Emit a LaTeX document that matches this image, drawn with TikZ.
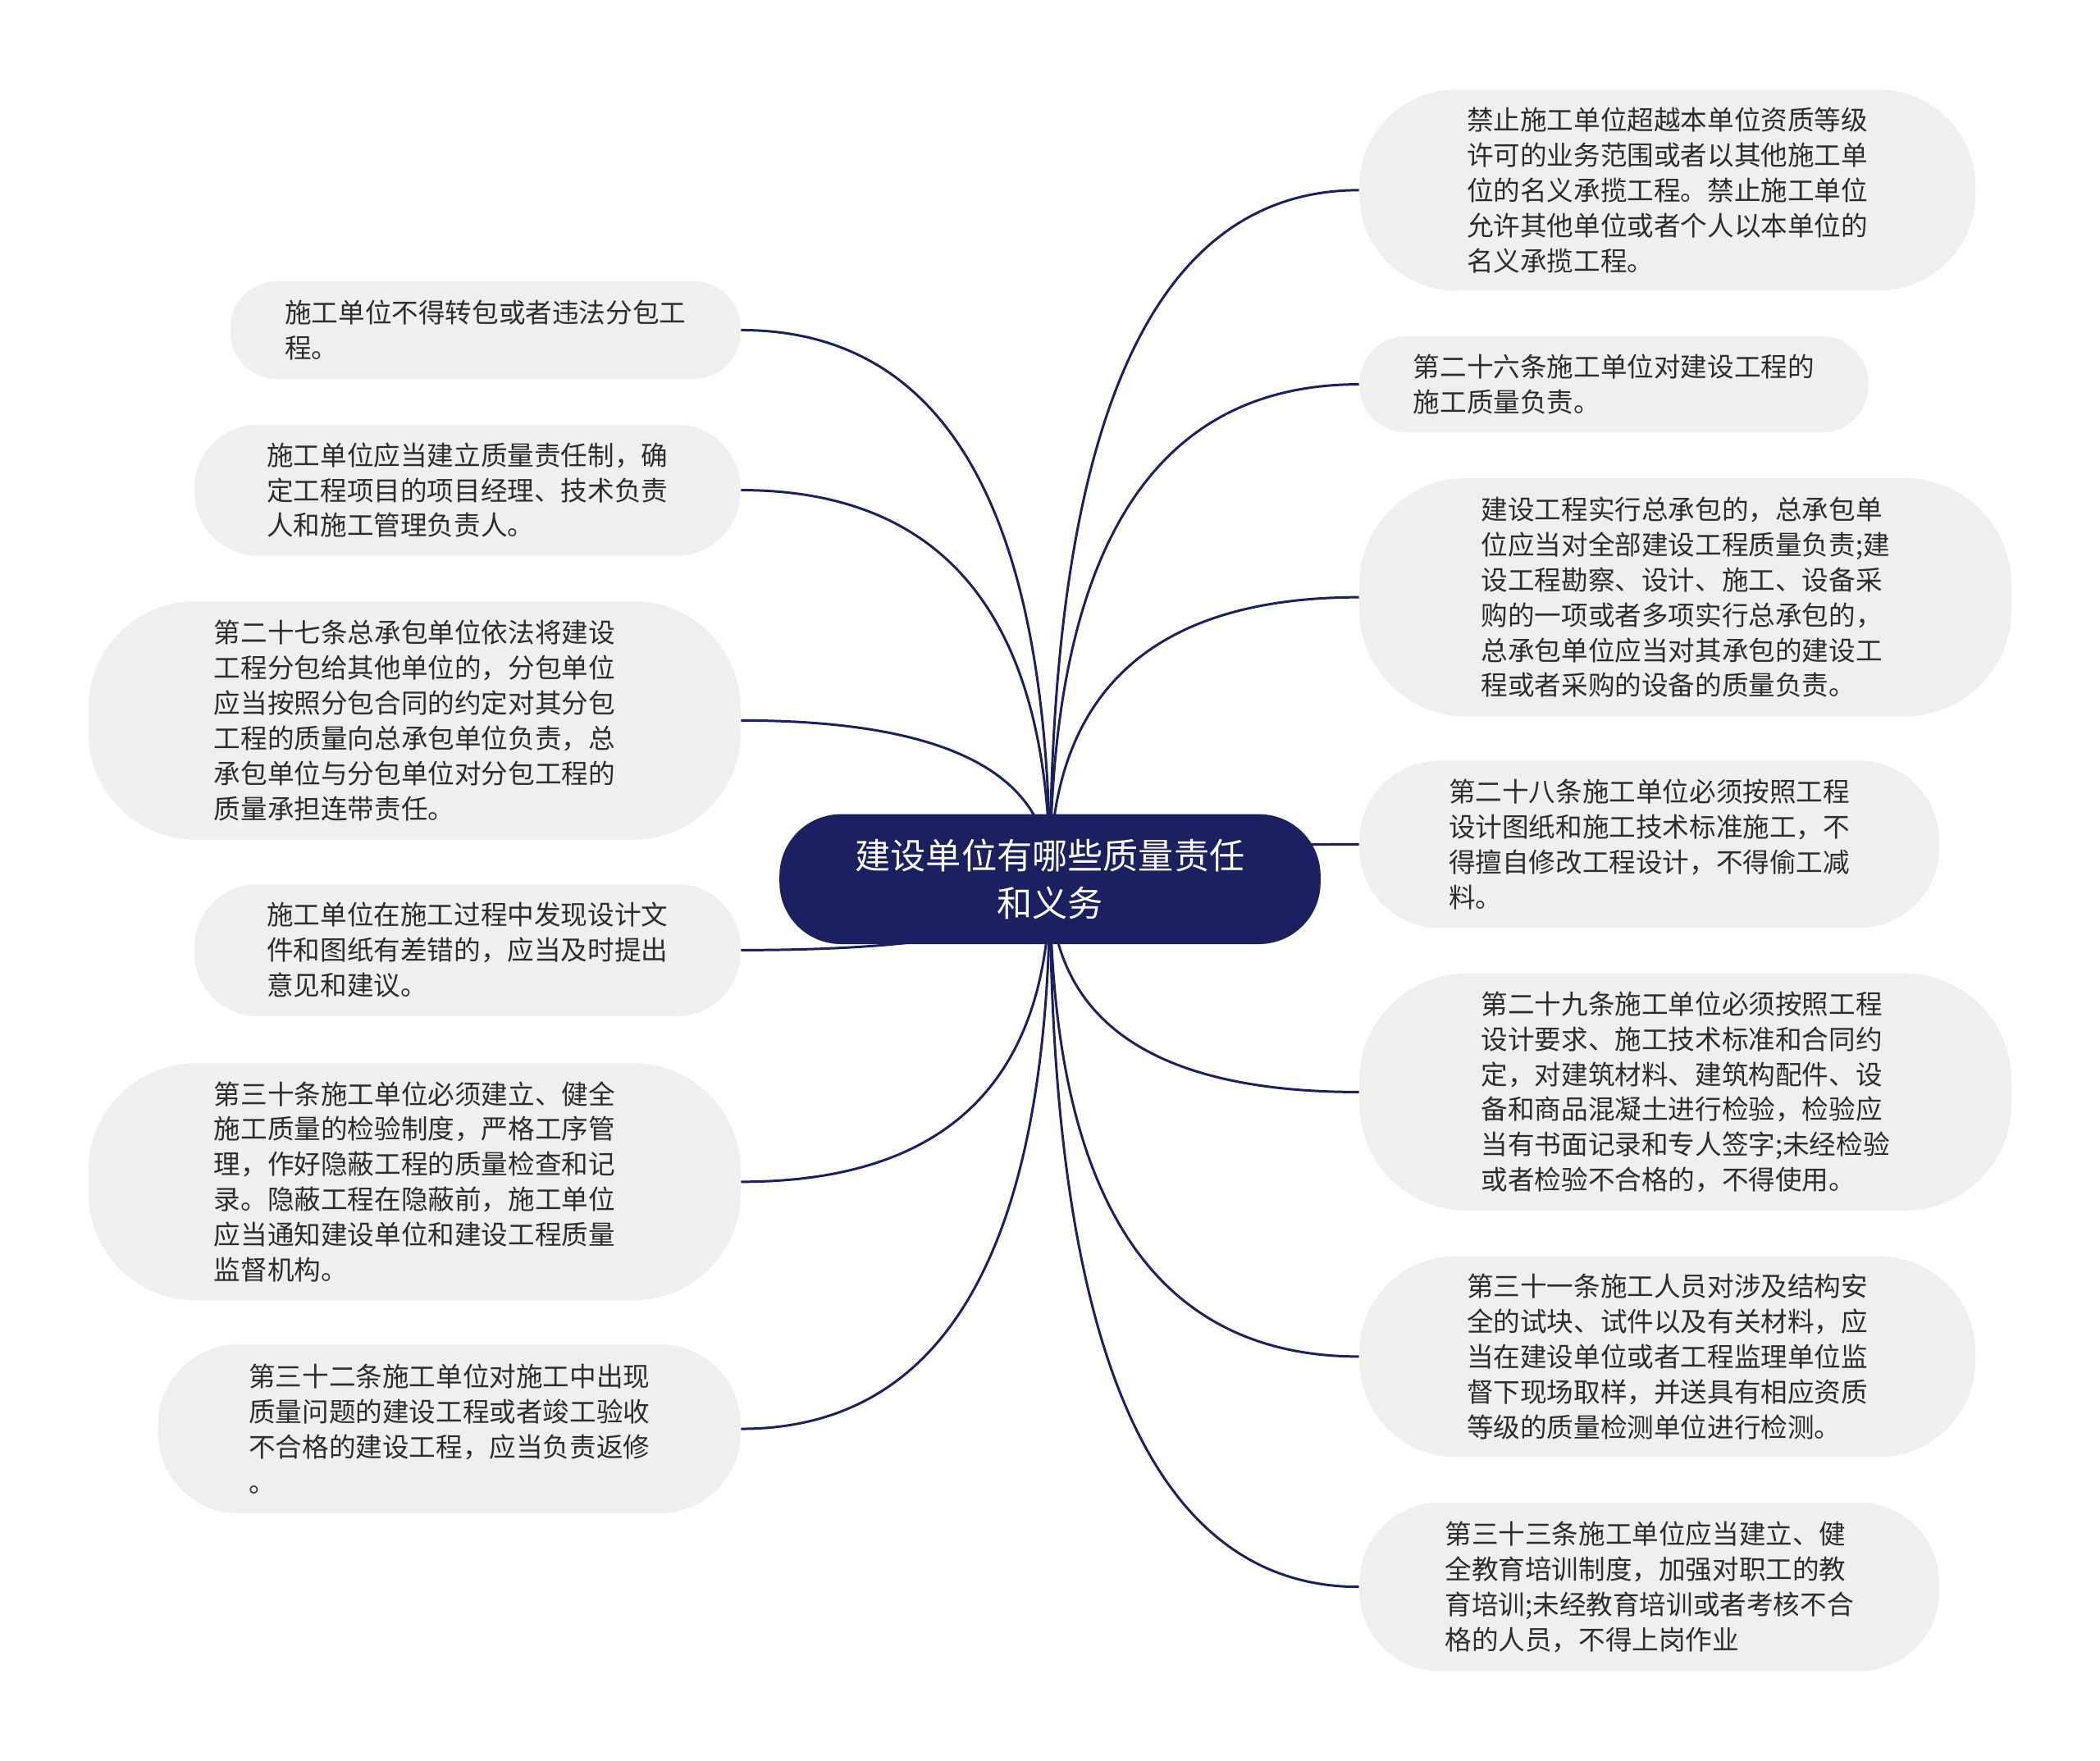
\documentclass[tikz,border=0pt]{standalone}
\usepackage{fontspec}
\setmainfont{Noto Sans CJK SC}
\usetikzlibrary{calc,backgrounds}
\definecolor{navy}{RGB}{27,32,96}
\definecolor{leaffill}{RGB}{239,239,239}
\definecolor{leaftext}{RGB}{45,45,45}
\tikzset{
  leaf/.style={draw=none, fill=leaffill, text=leaftext, align=left, inner sep=0pt,
    font=\fontsize{14.2pt}{18.7pt}\selectfont},
  hub/.style={fill=navy, text=white, align=center, inner sep=0pt,
    minimum width=404*0.025cm, minimum height=97*0.025cm, rounded corners=46*0.025cm,
    font=\fontsize{18.8pt}{24.9pt}\selectfont},
  conn/.style={draw=navy, line width=1.3pt}
}
\newcommand{\leafbox}[6]{%
  \node[leaf, minimum width=#3*0.025cm, minimum height=#4*0.025cm, rounded corners=#5*0.025cm] (#1) at #2 {#6};}
\begin{document}
\begin{tikzpicture}[x=0.025cm,y=-0.025cm]
\useasboundingbox (0,0) rectangle (1568,1315);
\node[hub] (C) at (784,656.5) {建设单位有哪些质量责任\\和义务};
% right side
\leafbox{R1}{(1245,142)}{460}{150}{72}{禁止施工单位超越本单位资质等级\\许可的业务范围或者以其他施工单\\位的名义承揽工程。禁止施工单位\\允许其他单位或者个人以本单位的\\名义承揽工程。}
\leafbox{R2}{(1205,287)}{380}{72}{35}{第二十六条施工单位对建设工程的\\施工质量负责。}
\leafbox{R3}{(1258.5,446)}{487}{178}{80}{建设工程实行总承包的，总承包单\\位应当对全部建设工程质量负责;建\\设工程勘察、设计、施工、设备采\\购的一项或者多项实行总承包的，\\总承包单位应当对其承包的建设工\\程或者采购的设备的质量负责。}
\leafbox{R4}{(1231.5,630.5)}{433}{125}{60}{第二十八条施工单位必须按照工程\\设计图纸和施工技术标准施工，不\\得擅自修改工程设计，不得偷工减\\料。}
\leafbox{R5}{(1258.5,815.5)}{487}{177}{80}{第二十九条施工单位必须按照工程\\设计要求、施工技术标准和合同约\\定，对建筑材料、建筑构配件、设\\备和商品混凝土进行检验，检验应\\当有书面记录和专人签字;未经检验\\或者检验不合格的，不得使用。}
\leafbox{R6}{(1245,1013)}{460}{150}{72}{第三十一条施工人员对涉及结构安\\全的试块、试件以及有关材料，应\\当在建设单位或者工程监理单位监\\督下现场取样，并送具有相应资质\\等级的质量检测单位进行检测。}
\leafbox{R7}{(1231.5,1185)}{433}{126}{60}{第三十三条施工单位应当建立、健\\全教育培训制度，加强对职工的教\\育培训;未经教育培训或者考核不合\\格的人员，不得上岗作业}
% left side
\leafbox{L1}{(362.5,246.5)}{381}{73}{35}{施工单位不得转包或者违法分包工\\程。}
\leafbox{L2}{(349,366)}{408}{98}{48}{施工单位应当建立质量责任制，确\\定工程项目的项目经理、技术负责\\人和施工管理负责人。}
\leafbox{L3}{(309.5,538)}{487}{178}{80}{第二十七条总承包单位依法将建设\\工程分包给其他单位的，分包单位\\应当按照分包合同的约定对其分包\\工程的质量向总承包单位负责，总\\承包单位与分包单位对分包工程的\\质量承担连带责任。}
\leafbox{L4}{(349,709.5)}{408}{99}{48}{施工单位在施工过程中发现设计文\\件和图纸有差错的，应当及时提出\\意见和建议。}
\leafbox{L5}{(309.5,882.5)}{487}{177}{80}{第三十条施工单位必须建立、健全\\施工质量的检验制度，严格工序管\\理，作好隐蔽工程的质量检查和记\\录。隐蔽工程在隐蔽前，施工单位\\应当通知建设单位和建设工程质量\\监督机构。}
\leafbox{L6}{(335.5,1067)}{435}{126}{60}{第三十二条施工单位对施工中出现\\质量问题的建设工程或者竣工验收\\不合格的建设工程，应当负责返修\\。}
\begin{scope}[on background layer]
\foreach \n in {R1,R2,R3,R4,R5,R6,R7}{
  \draw[conn] (C.center) .. controls ($(C.center)!2/3!(C.center |- \n.west)$) and ($(\n.west)!2/3!(C.center |- \n.west)$) .. (\n.west);
}
\foreach \n in {L1,L2,L3,L4,L5,L6}{
  \draw[conn] (C.center) .. controls ($(C.center)!2/3!(C.center |- \n.east)$) and ($(\n.east)!2/3!(C.center |- \n.east)$) .. (\n.east);
}
\end{scope}
\end{tikzpicture}
\end{document}
